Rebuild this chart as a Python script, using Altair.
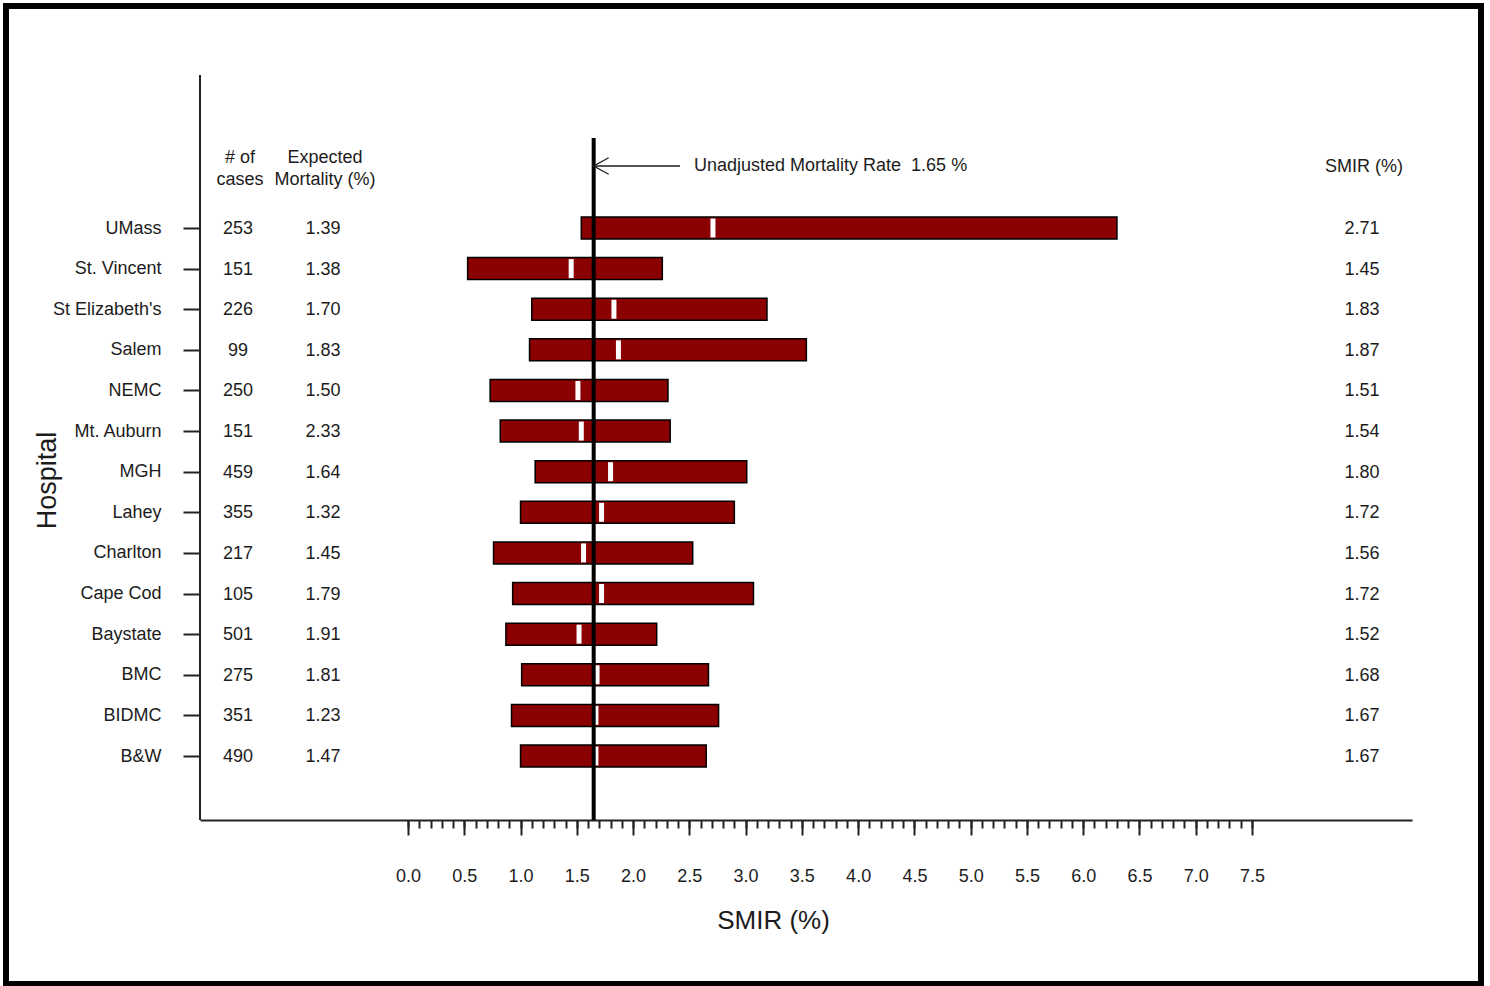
import altair as alt
import pandas as pd

# Hospital-level standardized mortality incidence ratios with interval bars
hospitals = ["UMass", "St. Vincent", "St Elizabeth's", "Salem", "NEMC", "Mt. Auburn",
             "MGH", "Lahey", "Charlton", "Cape Cod", "Baystate", "BMC", "BIDMC", "B&W"]
cases = [253, 151, 226, 99, 250, 151, 459, 355, 217, 105, 501, 275, 351, 490]
expected = [1.39, 1.38, 1.70, 1.83, 1.50, 2.33, 1.64, 1.32, 1.45, 1.79, 1.91, 1.81, 1.23, 1.47]
smir = [2.71, 1.45, 1.83, 1.87, 1.51, 1.54, 1.80, 1.72, 1.56, 1.72, 1.52, 1.68, 1.67, 1.67]
lower = [1.54, 0.53, 1.10, 1.08, 0.73, 0.82, 1.13, 1.00, 0.76, 0.93, 0.87, 1.01, 0.92, 1.00]
upper = [6.30, 2.26, 3.19, 3.54, 2.31, 2.33, 3.01, 2.90, 2.53, 3.07, 2.21, 2.67, 2.76, 2.65]
unadjusted_rate = 1.65

# axis tick positions: major every 0.5 (labelled), minor every 0.1
major_ticks = [round(i * 0.5, 1) for i in range(16)]
minor_ticks = [round(i * 0.1, 1) for i in range(76)]

df = pd.DataFrame({
    "hospital": hospitals, "cases": cases, "expected": expected,
    "smir": smir, "lower": lower, "upper": upper,
})
ref_df = pd.DataFrame({
    "rate": [unadjusted_rate],
    "note": [f"Unadjusted Mortality Rate\u00a0 {unadjusted_rate:.2f} %"],
})

FONT = "Liberation Sans"
INK = "#1c1c1c"
AXIS_INK = "#222222"
BAR = "#8b0000"
W, H = 1212, 745

x_scale = alt.Scale(domain=[-1.8483, 8.9218], nice=False, zero=False)
# rows sit in the lower part of the frame, leaving room for the column headers
y_scale = alt.Scale(type="point", domain=hospitals, range=[153, 681], padding=0)

x_axis_major = alt.Axis(
    orient="bottom",
    values=major_ticks,
    format=".1f",
    title="SMIR (%)",
    labelOverlap=False,
    labelFlush=False,
    labelPadding=32,
    tickSize=15,
    grid=False,
    titleFontSize=26,
    titleX=573,
    titleY=100,
    titleAlign="center",
    titleBaseline="middle",
)
x_axis_minor = alt.Axis(
    orient="bottom",
    values=minor_ticks,
    labels=False,
    domain=False,
    tickSize=8,
    grid=False,
    title=None,
)
y_axis = alt.Axis(
    orient="left",
    domain=False,
    title="Hospital",
    titleFontSize=27,
    titleAngle=270,
    titleX=-153,
    titleY=405,
    titleAlign="center",
    titleBaseline="middle",
    tickSize=17,
    labelPadding=22,
    labelAlign="right",
    labelBaseline="middle",
    labelOverlap=False,
    grid=False,
)

base = alt.Chart(df)

def xq(field, axis=None):
    return alt.X(field, type="quantitative", scale=x_scale, axis=axis)

def yh(axis=None):
    return alt.Y("hospital:N", scale=y_scale, axis=axis)

one_row = pd.DataFrame({"k": [0]})

# outer frame around the figure
frame = alt.Chart(one_row).mark_rect(
    fillOpacity=0, stroke="black", strokeWidth=6
).encode(x=alt.value(-194), x2=alt.value(1281), y=alt.value(-69), y2=alt.value(909))

# left frame line running the full height of the plot area
left_line = alt.Chart(one_row).mark_rule(color=AXIS_INK, strokeWidth=2).encode(
    x=alt.value(0), y=alt.value(0), y2=alt.value(H)
)

bars = base.mark_bar(size=22, color=BAR, stroke="black", strokeWidth=1.5).encode(
    x=xq("lower", x_axis_major), x2="upper:Q", y=yh(y_axis)
)

points = base.mark_tick(color="white", thickness=5, size=19, opacity=1).encode(
    x=xq("smir", x_axis_minor), y=yh()
)

ref_line = alt.Chart(ref_df).mark_rule(color="black", strokeWidth=4).encode(
    x=xq("rate"), y=alt.value(63), y2=alt.value(H)
)

arrow_shaft = alt.Chart(ref_df).mark_rule(color=INK, strokeWidth=1.5).encode(
    x=xq("rate"), x2=alt.value(480), y=alt.value(91)
)
arrow_head = alt.Chart(ref_df).mark_point(
    shape="M1,-0.55L0,0L1,0.55", size=900, filled=False, stroke=INK, strokeWidth=1.3, opacity=1
).encode(x=xq("rate"), y=alt.value(91))
arrow_note = alt.Chart(ref_df).mark_text(
    align="left", baseline="middle", font=FONT, fontSize=18, color=INK
).encode(x=alt.value(494), y=alt.value(91), text="note:N")

def column(field, px, fmt=None):
    text = alt.Text(field, type="quantitative", format=fmt) if fmt else alt.Text(field, type="quantitative")
    return base.mark_text(
        align="center", baseline="middle", font=FONT, fontSize=18, color=INK, dy=1
    ).encode(x=alt.value(px), y=yh(), text=text)

cases_col = column("cases", 38)
expected_col = column("expected", 123, ".2f")
smir_col = column("smir", 1162, ".2f")

def header(lines, px, py):
    return alt.Chart(pd.DataFrame({"t": [lines]})).mark_text(
        align="center", baseline="middle", font=FONT, fontSize=18, color=INK,
        lineBreak="\n", lineHeight=22
    ).encode(x=alt.value(px), y=alt.value(py), text="t:N")

hdr_cases = header("# of\ncases", 40, 83)
hdr_expected = header("Expected\nMortality (%)", 125, 83)
hdr_smir = header("SMIR (%)", 1164, 92)

chart = alt.layer(
    frame, left_line, bars, points, ref_line, arrow_shaft, arrow_head, arrow_note,
    cases_col, expected_col, smir_col, hdr_cases, hdr_expected, hdr_smir
).resolve_axis(
    x="independent", y="independent"
).properties(
    width=W, height=H,
    padding={"left": 200, "top": 75, "right": 78, "bottom": 166},
    autosize=alt.AutoSizeParams(type="none"),
    background="white",
).configure_view(
    stroke=None
).configure_axis(
    labelFont=FONT, labelFontSize=18, labelColor=INK,
    titleFont=FONT, titleFontWeight="normal", titleColor=INK,
    domainColor=AXIS_INK, domainWidth=2,
    tickColor=AXIS_INK, tickWidth=2,
)

chart.save("out.html", embed_options={"renderer": "svg", "actions": False})
